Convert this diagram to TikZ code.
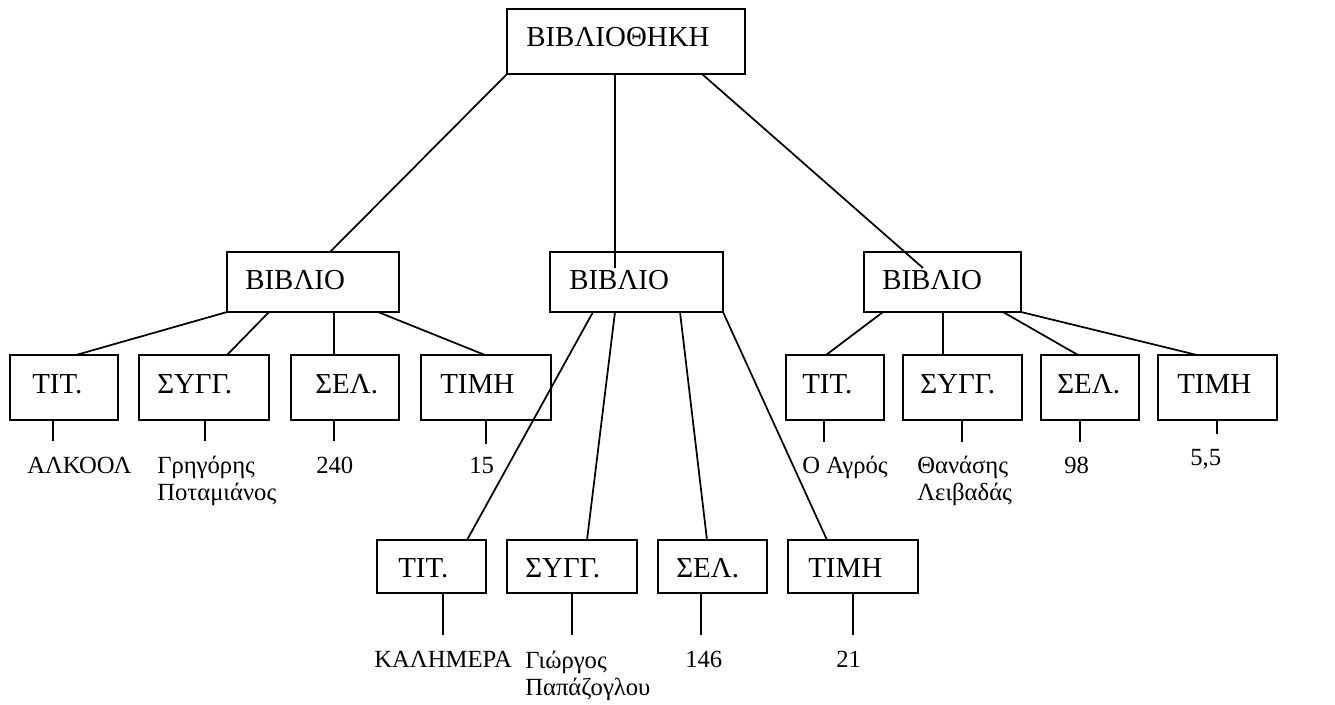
\documentclass[tikz,border=0pt]{standalone}
\usepackage{fontspec}
\setmainfont{Liberation Serif}
\usetikzlibrary{fit,calc}
\tikzset{
  box/.style={draw, line width=1.8pt, inner sep=0pt, outer sep=0pt},
  head/.style={font=\fontsize{21.7}{26}\selectfont, inner sep=0pt, anchor=base west},
  val/.style={font=\fontsize{18.5}{20.25}\selectfont, inner sep=0pt, anchor=base west, align=left},
  link/.style={line width=1.3pt},
}
\begin{document}
\begin{tikzpicture}[x=0.75pt, y=-0.75pt]
\useasboundingbox (0,0) rectangle (1335,704);

% root
\node[box, fit={(507,9) (745,74)}] (lib) {};
\node[head] (libt) at (526,46) {ΒΙΒΛΙΟΘΗΚΗ};

% books
\node[box, fit={(227,252) (399,312)}] (b1) {};
\node[head] (b1t) at (245,289) {ΒΙΒΛΙΟ};
\node[box, fit={(550,252) (723,312)}] (b2) {};
\node[head] (b2t) at (569,289) {ΒΙΒΛΙΟ};
\node[box, fit={(864,252) (1021,312)}] (b3) {};
\node[head] (b3t) at (882,289) {ΒΙΒΛΙΟ};

% fields of the first book
\node[box, fit={(10,355) (118,420)}] (a1) {};
\node[head] (a1t) at (32,393) {ΤΙΤ.};
\node[box, fit={(139,355) (269,420)}] (a2) {};
\node[head] (a2t) at (157,393) {ΣΥΓΓ.};
\node[box, fit={(291,355) (399,420)}] (a3) {};
\node[head] (a3t) at (315,393) {ΣΕΛ.};
\node[box, fit={(421,355) (551,420)}] (a4) {};
\node[head] (a4t) at (440,393) {ΤΙΜΗ};

% fields of the second book
\node[box, fit={(377,540) (486,593)}] (m1) {};
\node[head] (m1t) at (398,577) {ΤΙΤ.};
\node[box, fit={(507,540) (637,593)}] (m2) {};
\node[head] (m2t) at (525,577) {ΣΥΓΓ.};
\node[box, fit={(658,540) (767,593)}] (m3) {};
\node[head] (m3t) at (676,577) {ΣΕΛ.};
\node[box, fit={(788,540) (918,593)}] (m4) {};
\node[head] (m4t) at (808,577) {ΤΙΜΗ};

% fields of the third book
\node[box, fit={(786,355) (884,420)}] (r1) {};
\node[head] (r1t) at (802,393) {ΤΙΤ.};
\node[box, fit={(903,355) (1022,420)}] (r2) {};
\node[head] (r2t) at (920,393) {ΣΥΓΓ.};
\node[box, fit={(1041,355) (1139,420)}] (r3) {};
\node[head] (r3t) at (1057,393) {ΣΕΛ.};
\node[box, fit={(1158,355) (1277,420)}] (r4) {};
\node[head] (r4t) at (1177,393) {ΤΙΜΗ};

% values (two-line entries are anchored on their last line)
\node[val] (va1) at (27,473) {ΑΛΚΟΟΛ};
\node[val] (va2) at (157,500) {Γρηγόρης\\Ποταμιάνος};
\node[val] (va3) at (316,473) {240};
\node[val] (va4) at (469,473) {15};
\node[val] (vm1) at (374,667) {ΚΑΛΗΜΕΡΑ};
\node[val] (vm2) at (525,695) {Γιώργος\\Παπάζογλου};
\node[val] (vm3) at (685,667) {146};
\node[val] (vm4) at (836,667) {21};
\node[val] (vr1) at (802,473) {Ο Αγρός};
\node[val] (vr2) at (917,500) {Θανάσης\\Λειβαδάς};
\node[val] (vr3) at (1064,473) {98};
\node[val] (vr4) at (1190,465) {5,5};

% root to books
\coordinate (e2) at (615,268);
\coordinate (e3) at (923,268);
\draw[link] (lib.south west) -- (330,0 |- b1.north);
\draw[link] (615,0 |- lib.south) -- (e2);
\draw[link] (702,0 |- lib.south) -- (e3);

% books to fields
\draw[link] (b1.south west) -- (76,0 |- a1.north);
\draw[link] (269,0 |- b1.south) -- (227,0 |- a2.north);
\draw[link] (334,0 |- b1.south) -- (334,0 |- a3.north);
\draw[link] (378,0 |- b1.south) -- (485,0 |- a4.north);

\draw[link] (593,0 |- b2.south) -- (467,0 |- m1.north);
\draw[link] (615,0 |- b2.south) -- (587,0 |- m2.north);
\draw[link] (680,0 |- b2.south) -- (707,0 |- m3.north);
\draw[link] (b2.south east) -- (827,0 |- m4.north);

\draw[link] (883,0 |- b3.south) -- (826,0 |- r1.north);
\draw[link] (943,0 |- b3.south) -- (943,0 |- r2.north);
\draw[link] (1003,0 |- b3.south) -- (1078,0 |- r3.north);
\draw[link] (b3.south east) -- (1197,0 |- r4.north);

% short ticks under the fields
\draw[link] (53,0 |- a1.south) -- (53,441);
\draw[link] (205,0 |- a2.south) -- (205,441);
\draw[link] (334,0 |- a3.south) -- (334,441);
\draw[link] (486,0 |- a4.south) -- (486,444);
\draw[link] (443,0 |- m1.south) -- (443,635);
\draw[link] (572,0 |- m2.south) -- (572,635);
\draw[link] (701,0 |- m3.south) -- (701,635);
\draw[link] (853,0 |- m4.south) -- (853,635);
\draw[link] (824,0 |- r1.south) -- (824,442);
\draw[link] (962,0 |- r2.south) -- (962,442);
\draw[link] (1080,0 |- r3.south) -- (1080,442);
\draw[link] (1217,0 |- r4.south) -- (1217,434);
\end{tikzpicture}
\end{document}
